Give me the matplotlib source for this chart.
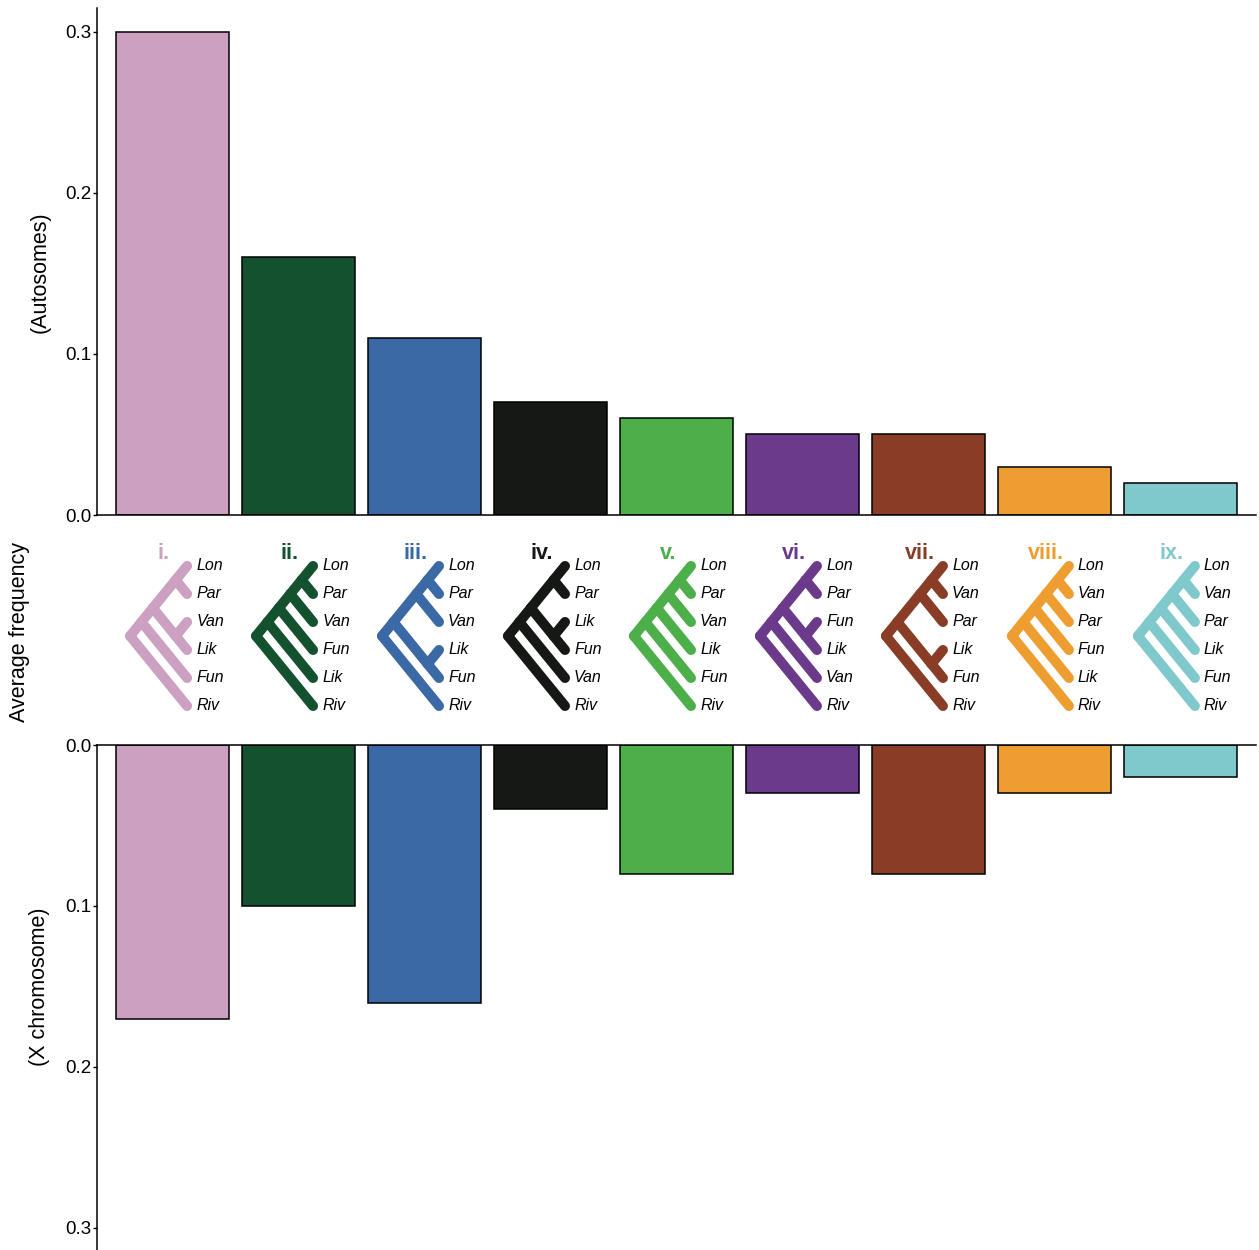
import matplotlib
matplotlib.use("Agg")
import matplotlib.pyplot as plt

plt.rcParams["font.family"] = ["Liberation Sans", "DejaVu Sans"]

numerals = ["i.", "ii.", "iii.", "iv.", "v.", "vi.", "vii.", "viii.", "ix."]
colors = ["#CBA0C0", "#13512F", "#3A69A6", "#151815", "#4CAF4A",
          "#6B3A8A", "#8A3D26", "#EE9E31", "#7FC8CC"]
autosome_freq = [0.30, 0.16, 0.11, 0.07, 0.06, 0.05, 0.05, 0.03, 0.02]
xchrom_freq = [0.17, 0.10, 0.16, 0.04, 0.08, 0.03, 0.08, 0.03, 0.02]

# topologies, tips listed top to bottom
trees = [
    (((("Lon", "Par"), ("Van", "Lik")), "Fun"), "Riv"),
    ((((("Lon", "Par"), "Van"), "Fun"), "Lik"), "Riv"),
    (((("Lon", "Par"), "Van"), ("Lik", "Fun")), "Riv"),
    (((("Lon", "Par"), ("Lik", "Fun")), "Van"), "Riv"),
    ((((("Lon", "Par"), "Van"), "Lik"), "Fun"), "Riv"),
    (((("Lon", "Par"), ("Fun", "Lik")), "Van"), "Riv"),
    (((("Lon", "Van"), "Par"), ("Lik", "Fun")), "Riv"),
    ((((("Lon", "Van"), "Par"), "Fun"), "Lik"), "Riv"),
    ((((("Lon", "Van"), "Par"), "Lik"), "Fun"), "Riv"),
]

SLANT = 0.0905      # x shift per tip spanned
TIP_DX = 0.115      # tip ends right of bar centre
LABEL_DX = 0.187


def layout(node, tips, segs):
    if isinstance(node, str):
        k = len(tips)
        tips.append(node)
        return 0.0, float(k), k, k
    kids = [layout(ch, tips, segs) for ch in node]
    lo = min(c[2] for c in kids)
    hi = max(c[3] for c in kids)
    x = -SLANT * (hi - lo)
    y = (lo + hi) / 2
    for cx, cy, _, _ in kids:
        segs.append(((x, cx), (y, cy)))
    return x, y, lo, hi


fig = plt.figure(figsize=(12.59, 12.5), dpi=100)
left, width = 97 / 1259, (1256 - 97) / 1259
ax_top = fig.add_axes([left, 0.588, width, 0.4056])
ax_bot = fig.add_axes([left, 0.0, width, 0.404])
ax_tree = fig.add_axes([left, 0.404, width, 0.184])

pos = list(range(len(numerals)))
ax_top.bar(pos, autosome_freq, width=0.9, color=colors, edgecolor="black", linewidth=1.1)
ax_bot.bar(pos, xchrom_freq, width=0.9, color=colors, edgecolor="black", linewidth=1.1)

for ax in (ax_top, ax_bot):
    ax.set_xlim(-0.6, 8.6)
    ax.set_xticks([])
    ax.set_yticks([0.0, 0.1, 0.2, 0.3])
    ax.set_yticklabels(["0.0", "0.1", "0.2", "0.3"])
    ax.tick_params(axis="y", labelsize=13.5, length=3, width=1, pad=1)
    for s in ax.spines.values():
        s.set_linewidth(1.1)
    ax.spines["right"].set_visible(False)

ax_top.set_ylim(0, 0.3149)
ax_top.spines["top"].set_visible(False)
ax_bot.set_ylim(0.3137, 0)
ax_bot.spines["bottom"].set_visible(False)

ax_tree.set_xlim(-0.6, 8.6)
ax_tree.set_ylim(6.393, -1.821)
ax_tree.axis("off")

for i, (tree, col) in enumerate(zip(trees, colors)):
    tips, segs = [], []
    layout(tree, tips, segs)
    x0 = i + TIP_DX
    for xs, ys in segs:
        ax_tree.plot([x0 + xs[0], x0 + xs[1]], ys, color=col, lw=7.2,
                     solid_capstyle="round", clip_on=False)
    for k, name in enumerate(tips):
        ax_tree.text(i + LABEL_DX, k, name, fontsize=11.5, style="italic",
                     ha="left", va="center")
    ax_tree.text(i - 0.07, -0.46, numerals[i], fontsize=15.5, fontweight="bold",
                 color=col, ha="center", va="center")

fig.text(20 / 1259, 1 - 632 / 1250, "Average frequency", rotation=90,
         fontsize=15.5, ha="center", va="center")
fig.text(40 / 1259, 1 - 272 / 1250, "(Autosomes)", rotation=90,
         fontsize=15.5, ha="center", va="center")
fig.text(40 / 1259, 1 - 987 / 1250, "(X chromosome)", rotation=90,
         fontsize=15.5, ha="center", va="center")

fig.savefig("out.png", dpi=100)
